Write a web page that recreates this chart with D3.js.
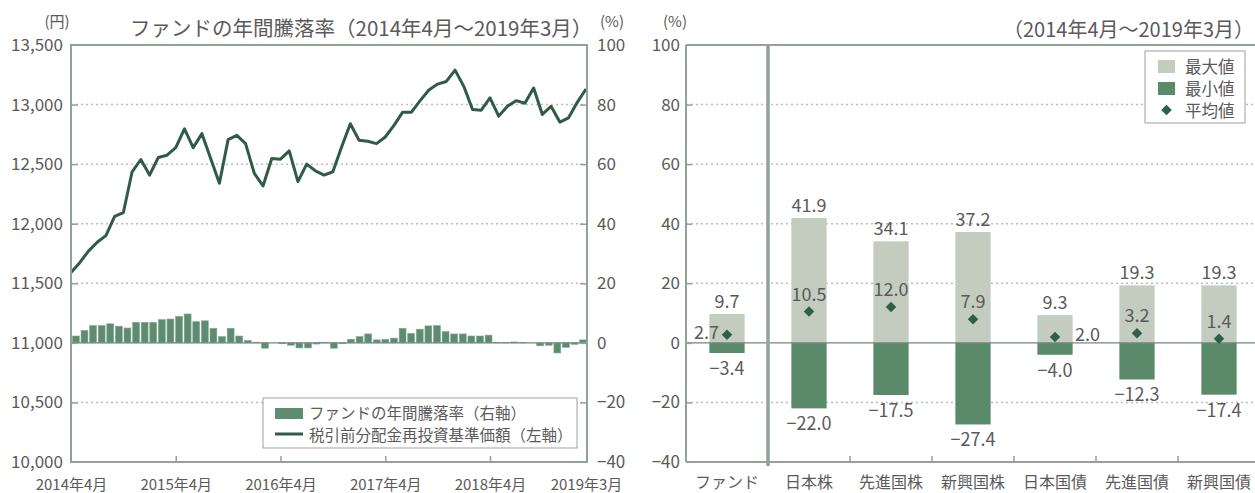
<!DOCTYPE html>
<html><head><meta charset="utf-8">
<script src="https://cdn.jsdelivr.net/npm/d3@7"></script>
<style>
body{margin:0;background:#fff;}
svg text{font-family:"Noto Sans CJK JP","Noto Sans",sans-serif;fill:#5a5a5a;}
</style></head><body>
<svg id="c" width="1255" height="493"></svg>
<script>
// ---------- data ----------
const navValues = [11590,11673,11770,11845,11900,12061,12094,12436,12539,12408,
  12556,12575,12639,12797,12639,12756,12547,12339,12706,12742,
  12672,12422,12317,12547,12542,12611,12353,12500,12444,12408,
  12436,12644,12839,12700,12692,12672,12728,12825,12936,12936,
  13033,13122,13172,13194,13289,13153,12958,12953,13056,12903,
  12986,13033,13011,13139,12917,12986,12853,12889,13019,13131];
const changeValues = [2.3,4.2,5.8,5.8,6.4,5.6,5.0,6.9,6.9,6.9,
  7.8,8.0,8.9,9.7,7.1,7.4,4.9,2.1,4.9,2.3,
  0.8,0.2,-1.8,0.0,-0.3,-0.8,-1.7,-1.7,-0.4,0.2,
  -1.8,-0.3,1.2,2.1,3.0,1.0,1.2,1.6,4.9,3.2,
  4.6,5.7,5.8,3.8,3.0,3.0,2.3,2.3,2.6,0.2,
  0.1,0.3,0.1,0.0,-1.0,-0.8,-3.4,-1.5,-0.5,1.0];
const xTickLabels = ["2014年4月","2015年4月","2016年4月","2017年4月","2018年4月","2019年3月"];
const xTickIndex = [0,12,24,36,48,59];
const leftTicks = [10000,10500,11000,11500,12000,12500,13000,13500];
const rightTicks = [-40,-20,0,20,40,60,80,100];
const legendLeft = ["ファンドの年間騰落率（右軸）","税引前分配金再投資基準価額（左軸）"];

const categories = ["ファンド","日本株","先進国株","新興国株","日本国債","先進国債","新興国債"];
const maxVals = [9.7,41.9,34.1,37.2,9.3,19.3,19.3];
const minVals = [-3.4,-22.0,-17.5,-27.4,-4.0,-12.3,-17.4];
const avgVals = [2.7,10.5,12.0,7.9,2.0,3.2,1.4];
const legendRight = ["最大値","最小値","平均値"];

// ---------- styles ----------
const C = {frame:"#8fa396", grid:"#bdbdbd", zero:"#6f8a7b", line:"#2f5b47",
  bar:"#5e8c70", maxC:"#c3ccbf", minC:"#5b8a6b", dia:"#2e5f48"};
const fmtNum = v => (v<0?"\u2212":"")+Math.abs(v).toFixed(1);
const fmtTick = v => (v<0?"\u2212":"")+Math.abs(v);

const svg = d3.select("#c");

// ================= LEFT CHART =================
const L = {x0:71, x1:587, y0:45, y1:462};
const yL = d3.scaleLinear().domain([10000,13500]).range([L.y1,L.y0]);
const yR = d3.scaleLinear().domain([-40,100]).range([L.y1,L.y0]);
const idx = d3.range(navValues.length);
const xP = d3.scalePoint().domain(idx).range([L.x0,586]);
const xB = d3.scaleBand().domain(idx).range([L.x0+1,L.x1]).paddingInner(0.2).paddingOuter(0.05);

const gL = svg.append("g");
// grid
gL.selectAll(".gl").data(leftTicks.filter(t=>t!==10000&&t!==13500&&t!==11000)).join("line")
  .attr("x1",L.x0).attr("x2",L.x1).attr("y1",d=>yL(d)).attr("y2",d=>yL(d))
  .attr("stroke",C.grid).attr("stroke-width",1.5).attr("stroke-dasharray","2,3");
// bars
gL.selectAll(".bar").data(changeValues).join("rect")
  .attr("x",(d,i)=>xB(i)).attr("width",xB.bandwidth())
  .attr("y",d=>Math.min(yR(d),yR(0))).attr("height",d=>Math.abs(yR(d)-yR(0)))
  .attr("fill",C.bar).attr("stroke","#84a892").attr("stroke-width",0.6);
// zero line
gL.append("line").attr("x1",L.x0).attr("x2",L.x1).attr("y1",yR(0)).attr("y2",yR(0))
  .attr("stroke",C.zero).attr("stroke-width",1.2);
// nav line
gL.append("path").datum(navValues)
  .attr("d",d3.line().x((d,i)=>xP(i)).y(d=>yL(d)))
  .attr("fill","none").attr("stroke",C.line).attr("stroke-width",3).attr("stroke-linejoin","round");
// frame
gL.append("rect").attr("x",L.x0).attr("y",L.y0).attr("width",L.x1-L.x0).attr("height",L.y1-L.y0)
  .attr("fill","none").attr("stroke",C.frame).attr("stroke-width",2);
// left axis
const axL = gL.append("g").attr("transform",`translate(${L.x0},0)`)
  .call(d3.axisLeft(yL).tickValues(leftTicks).tickFormat(d3.format(",")).tickSize(-7).tickPadding(8));
// right axis
const axR = gL.append("g").attr("transform",`translate(${L.x1},0)`)
  .call(d3.axisRight(yR).tickValues(rightTicks).tickFormat(fmtTick).tickSize(-7).tickPadding(10));
// bottom axis
const axB = gL.append("g").attr("transform",`translate(0,${L.y1})`)
  .call(d3.axisBottom(xP).tickValues(xTickIndex).tickFormat((d,i)=>xTickLabels[i]).tickSize(-6).tickPadding(17));
[axL,axR,axB].forEach(a=>{
  a.select(".domain").remove();
  a.selectAll(".tick line").attr("stroke",C.frame).attr("stroke-width",1.5);
  a.selectAll(".tick text").style("font-size","17px").attr("fill","#5a5a5a");
});
axB.selectAll(".tick text").style("font-size","15px");
axB.selectAll(".tick line").filter((d,i)=>i===0||i===xTickIndex.length-1).remove();
axL.selectAll(".tick line").filter(d=>d===10000||d===13500).remove();
axR.selectAll(".tick line").filter(d=>d===-40||d===100).remove();

// texts
svg.append("text").attr("x",57).attr("y",27).attr("text-anchor","middle").style("font-size","15px").text("(円)");
svg.append("text").attr("x",612).attr("y",27).attr("text-anchor","middle").style("font-size","15px").text("(%)");
svg.append("text").attr("x",130).attr("y",36).style("font-size","20.5px").text("ファンドの年間騰落率（2014年4月～2019年3月）");

// left legend
const lg = svg.append("g");
lg.append("rect").attr("x",263).attr("y",398).attr("width",314).attr("height",50)
  .attr("fill","#fff").attr("stroke","#a0a0a0").attr("stroke-width",1);
lg.append("rect").attr("x",275).attr("y",408).attr("width",28).attr("height",11).attr("fill",C.bar);
lg.append("line").attr("x1",275).attr("x2",303).attr("y1",434).attr("y2",434).attr("stroke",C.line).attr("stroke-width",3);
lg.selectAll(".lt").data(legendLeft).join("text")
  .attr("x",309).attr("y",(d,i)=>419+i*22).style("font-size","15.5px").text(d=>d);

// ================= RIGHT CHART =================
const R = {x0:686, x1:1260, y0:45, y1:462, right:1255};
const yB = d3.scaleLinear().domain([-40,100]).range([R.y1,R.y0]);
const xC = d3.scaleBand().domain(categories).range([R.x0,R.x1]).paddingInner(0.57).paddingOuter(0.285);
const bw = xC.bandwidth();
const cx = c => xC(c)+bw/2;
const gR = svg.append("g");
gR.selectAll(".gr").data(rightTicks.filter(t=>t!==-40&&t!==100&&t!==0)).join("line")
  .attr("x1",R.x0).attr("x2",R.right).attr("y1",d=>yB(d)).attr("y2",d=>yB(d))
  .attr("stroke",C.grid).attr("stroke-width",1.5).attr("stroke-dasharray","2,3");
// max bars
gR.selectAll(".mx").data(categories).join("rect")
  .attr("x",d=>xC(d)).attr("width",bw)
  .attr("y",(d,i)=>yB(maxVals[i])).attr("height",(d,i)=>yB(0)-yB(maxVals[i]))
  .attr("fill",C.maxC);
// min bars
gR.selectAll(".mn").data(categories).join("rect")
  .attr("x",d=>xC(d)).attr("width",bw)
  .attr("y",yB(0)).attr("height",(d,i)=>yB(minVals[i])-yB(0))
  .attr("fill",C.minC);
// zero line
gR.append("line").attr("x1",R.x0).attr("x2",R.right).attr("y1",yB(0)).attr("y2",yB(0))
  .attr("stroke",C.zero).attr("stroke-width",1.2);
// diamonds
const diamond = d3.symbol().type(d3.symbolDiamond2).size(70);
gR.selectAll(".dm").data(categories).join("path")
  .attr("d",diamond).attr("transform",(d,i)=>`translate(${cx(d)},${yB(avgVals[i])})`)
  .attr("fill",C.dia);
// labels
gR.selectAll(".lmx").data(categories).join("text")
  .attr("x",d=>cx(d)).attr("y",(d,i)=>yB(maxVals[i])-6).attr("text-anchor","middle")
  .style("font-size","18px").text((d,i)=>fmtNum(maxVals[i]));
gR.selectAll(".lmn").data(categories).join("text")
  .attr("x",d=>cx(d)).attr("y",(d,i)=>yB(minVals[i])+22).attr("text-anchor","middle")
  .style("font-size","18px").text((d,i)=>fmtNum(minVals[i]));
gR.selectAll(".lav").data(categories).join("text")
  .attr("x",(d,i)=>i===0?cx(d)-8:(i===4?cx(d)+20:cx(d)))
  .attr("y",(d,i)=>(i===0||i===4)?yB(avgVals[i])+4:yB(avgVals[i])-11)
  .attr("text-anchor",(d,i)=>i===0?"end":(i===4?"start":"middle"))
  .style("font-size","18px").text((d,i)=>fmtNum(avgVals[i]));
// frame lines
gR.append("line").attr("x1",R.x0).attr("x2",R.right).attr("y1",R.y0).attr("y2",R.y0).attr("stroke",C.frame).attr("stroke-width",2);
gR.append("line").attr("x1",R.x0).attr("x2",R.right).attr("y1",R.y1).attr("y2",R.y1).attr("stroke",C.frame).attr("stroke-width",2);
gR.append("line").attr("x1",R.x0).attr("x2",R.x0).attr("y1",R.y0).attr("y2",R.y1).attr("stroke",C.frame).attr("stroke-width",2);
gR.append("line").attr("x1",xC(categories[1])-(xC.step()-bw)/2).attr("x2",xC(categories[1])-(xC.step()-bw)/2)
  .attr("y1",R.y0).attr("y2",R.y1+4).attr("stroke",C.frame).attr("stroke-width",3.5);
// axes
const axY = gR.append("g").attr("transform",`translate(${R.x0},0)`)
  .call(d3.axisLeft(yB).tickValues(rightTicks).tickFormat(fmtTick).tickSize(-6).tickPadding(6));
const axX = gR.append("g").attr("transform",`translate(0,${R.y1})`)
  .call(d3.axisBottom(xC).tickSize(0).tickPadding(15));
[axY,axX].forEach(a=>{
  a.select(".domain").remove();
  a.selectAll(".tick line").attr("stroke",C.frame).attr("stroke-width",1.5);
  a.selectAll(".tick text").style("font-size","17px").attr("fill","#5a5a5a");
});
axX.selectAll(".tick text").style("font-size","16px");
axY.selectAll(".tick line").filter(d=>d===-40||d===100).remove();
// category boundary ticks
gR.selectAll(".bt").data(categories.slice(2)).join("line")
  .attr("x1",d=>xC(d)-(xC.step()-bw)/2).attr("x2",d=>xC(d)-(xC.step()-bw)/2)
  .attr("y1",R.y1).attr("y2",R.y1-6).attr("stroke",C.frame).attr("stroke-width",1.5);

svg.append("text").attr("x",675).attr("y",27).attr("text-anchor","middle").style("font-size","15px").text("(%)");
svg.append("text").attr("x",1254).attr("y",37).attr("text-anchor","end").style("font-size","20px").text("（2014年4月～2019年3月）");

// right legend
const rg = svg.append("g");
rg.append("rect").attr("x",1145).attr("y",51).attr("width",100).attr("height",72)
  .attr("fill","#fff").attr("stroke","#a0a0a0").attr("stroke-width",1);
rg.append("rect").attr("x",1158).attr("y",60).attr("width",17).attr("height",13).attr("fill",C.maxC);
rg.append("rect").attr("x",1158).attr("y",82).attr("width",17).attr("height",13).attr("fill",C.minC);
rg.append("path").attr("d",diamond).attr("transform","translate(1166.5,110)").attr("fill",C.dia);
rg.selectAll(".rt").data(legendRight).join("text")
  .attr("x",1185).attr("y",(d,i)=>73+i*22).style("font-size","16.5px").text(d=>d);
</script>
</body></html>
